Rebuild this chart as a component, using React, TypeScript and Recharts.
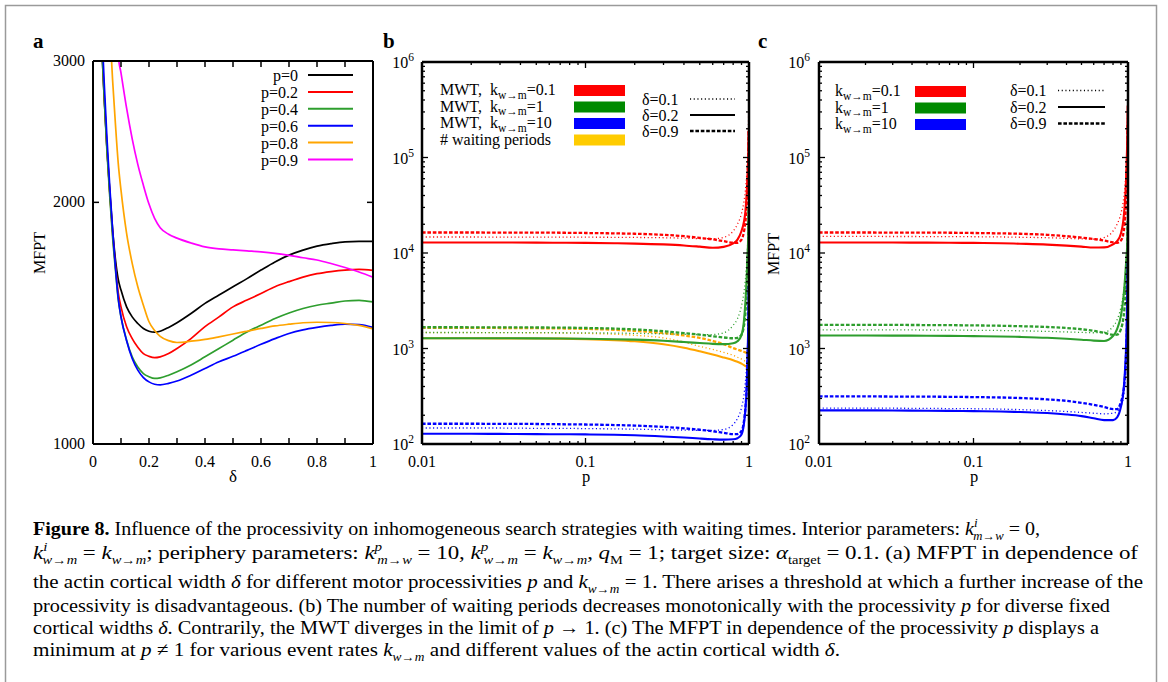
import React from "react";
import { LineChart, Line, XAxis, YAxis } from "recharts";

const FONT = "'Liberation Serif', 'Times New Roman', 'DejaVu Serif', serif";

// ---------------- Panel a : MFPT vs delta ----------------
const deltaA = [0.02, 0.03, 0.04, 0.05, 0.06, 0.07, 0.08, 0.09, 0.1, 0.12, 0.14, 0.16, 0.18, 0.2, 0.22, 0.24, 0.27, 0.3, 0.35, 0.4, 0.45, 0.5, 0.55, 0.6, 0.65, 0.7, 0.75, 0.8, 0.85, 0.9, 0.95, 1.0];
const aP0 = [4000, 3200, 2700, 2330, 2060, 1850, 1700, 1605, 1555, 1482, 1440, 1413, 1393, 1382, 1378, 1382, 1397, 1416, 1454, 1497, 1533, 1570, 1607, 1647, 1686, 1719, 1744, 1764, 1777, 1786, 1788, 1788];
const aP02 = [4000, 3250, 2720, 2330, 2050, 1830, 1670, 1545, 1482, 1400, 1353, 1320, 1296, 1286, 1281, 1284, 1296, 1315, 1353, 1400, 1440, 1482, 1511, 1540, 1570, 1593, 1614, 1630, 1640, 1647, 1650, 1645];
const aP04 = [3900, 3200, 2700, 2310, 2030, 1810, 1650, 1515, 1440, 1347, 1284, 1247, 1224, 1213, 1207, 1209, 1218, 1230, 1254, 1284, 1315, 1347, 1379, 1406, 1433, 1456, 1475, 1489, 1498, 1507, 1510, 1503];
const aP06 = [4100, 3400, 2820, 2400, 2090, 1850, 1665, 1520, 1440, 1345, 1278, 1236, 1210, 1195, 1187, 1185, 1190, 1198, 1218, 1242, 1266, 1286, 1308, 1331, 1353, 1373, 1387, 1397, 1405, 1410, 1408, 1397];
const aP08 = [9000, 6500, 5000, 4000, 3300, 2840, 2507, 2240, 2071, 1830, 1679, 1570, 1489, 1420, 1385, 1362, 1345, 1338, 1343, 1350, 1360, 1371, 1382, 1393, 1403, 1410, 1416, 1418, 1417, 1413, 1405, 1391];
const aP09 = [20000, 14000, 10000, 7500, 5800, 4600, 3700, 3050, 2900, 2620, 2400, 2230, 2100, 1990, 1910, 1860, 1825, 1805, 1780, 1760, 1750, 1745, 1740, 1735, 1728, 1718, 1706, 1695, 1678, 1659, 1638, 1614];

const seriesA = [
  { key: "p0", label: "p=0", color: "#000000", values: aP0 },
  { key: "p02", label: "p=0.2", color: "#ff0000", values: aP02 },
  { key: "p04", label: "p=0.4", color: "#2e9e2e", values: aP04 },
  { key: "p06", label: "p=0.6", color: "#0000ff", values: aP06 },
  { key: "p08", label: "p=0.8", color: "#ffa500", values: aP08 },
  { key: "p09", label: "p=0.9", color: "#ff00ff", values: aP09 },
];

const xTicksA = [0, 0.1, 0.2, 0.3, 0.4, 0.5, 0.6, 0.7, 0.8, 0.9, 1.0];
const yTicksA = [1000, 2000, 3000];
const yTicksARight = [2000];

// ---------------- Panels b, c : vs p (log-log) ----------------
const pB = [0.01, 0.02, 0.03, 0.05, 0.07, 0.1, 0.15, 0.2, 0.3, 0.4, 0.5, 0.6, 0.7, 0.8, 0.85, 0.9, 0.93, 0.95, 0.97, 0.98, 0.99, 0.995];

// panel b: MWT and number of waiting periods
const bRedDot = [14700, 14700, 14690, 14680, 14660, 14640, 14600, 14550, 14450, 14300, 14150, 14100, 14600, 17000, 20000, 26000, 34000, 45000, 70000, 100000, 170000, 300000];
const bRedSol = [12900, 12890, 12870, 12840, 12800, 12750, 12650, 12550, 12300, 12000, 11650, 11350, 11600, 12600, 13800, 17000, 21000, 27000, 45000, 65000, 110000, 190000];
const bRedDash = [16400, 16390, 16370, 16340, 16300, 16200, 16050, 15900, 15500, 15000, 14400, 13900, 13300, 12800, 12800, 13800, 16500, 21000, 34000, 52000, 100000, 200000];
const bGrnDot = [1470, 1470, 1468, 1465, 1462, 1458, 1450, 1440, 1425, 1410, 1400, 1400, 1460, 1750, 2050, 2800, 3800, 5200, 8500, 12000, 20000, 35000];
const bGrnSol = [1282, 1281, 1279, 1276, 1272, 1265, 1252, 1238, 1205, 1170, 1140, 1118, 1112, 1135, 1190, 1380, 1900, 3000, 6000, 9500, 16000, 30000];
const bGrnDash = [1670, 1668, 1665, 1660, 1655, 1640, 1615, 1585, 1515, 1450, 1395, 1345, 1305, 1280, 1295, 1400, 1700, 2300, 4200, 7000, 14000, 28000];
const bBluDot = [147, 147, 147, 146, 146, 145, 144, 143, 141, 140, 139, 139, 142, 160, 185, 240, 320, 440, 750, 1100, 2200, 4500];
const bBluSol = [128, 128, 127.5, 127, 126.5, 126, 125, 123.5, 120, 117, 114, 112, 111, 112, 115, 126, 160, 225, 430, 850, 1900, 4500];
const bBluDash = [163, 163, 162.5, 162, 161, 160, 158, 156, 151, 146, 141, 136, 131, 127, 127, 137, 170, 235, 420, 700, 1400, 3000];
const bOrgDot = [1470, 1468, 1465, 1460, 1452, 1440, 1410, 1375, 1290, 1170, 1050, 980, 910, 850, 810, 775, 750, 735, 720, 712, 705, 700];
const bOrgSol = [1282, 1280, 1278, 1274, 1268, 1255, 1225, 1190, 1110, 1020, 935, 865, 805, 755, 725, 695, 670, 655, 642, 635, 628, 625];
const bOrgDash = [1650, 1645, 1640, 1632, 1622, 1605, 1570, 1530, 1450, 1370, 1290, 1200, 1110, 1010, 975, 945, 925, 912, 903, 898, 893, 890];

// panel c: MFPT
const cRedDot = [14900, 14900, 14890, 14870, 14850, 14800, 14720, 14620, 14450, 14250, 14050, 13950, 14500, 17000, 20000, 26000, 34000, 45000, 70000, 100000, 180000, 350000];
const cRedSol = [12900, 12890, 12870, 12840, 12800, 12750, 12650, 12500, 12250, 11950, 11650, 11400, 11450, 12300, 13300, 16000, 21000, 30000, 55000, 90000, 170000, 350000];
const cRedDash = [16400, 16390, 16370, 16350, 16300, 16200, 16050, 15900, 15500, 15000, 14500, 14000, 13500, 12900, 12800, 13500, 15500, 20000, 32000, 50000, 100000, 220000];
const cGrnDot = [1567, 1567, 1565, 1562, 1558, 1552, 1543, 1532, 1510, 1490, 1475, 1462, 1480, 1700, 2000, 2700, 3600, 4800, 7500, 10000, 15000, 25000];
const cGrnSol = [1368, 1367, 1365, 1360, 1355, 1348, 1336, 1322, 1295, 1265, 1237, 1210, 1200, 1350, 1600, 2200, 3200, 4600, 7500, 9500, 13000, 20000];
const cGrnDash = [1770, 1768, 1765, 1760, 1755, 1745, 1730, 1712, 1680, 1640, 1590, 1530, 1460, 1390, 1400, 1600, 2000, 2700, 4500, 7000, 12000, 22000];
const cBluDot = [238, 238, 237, 236, 235, 234, 232, 229, 224, 219, 214, 210, 207, 210, 220, 250, 300, 400, 700, 1100, 2500, 5000];
const cBluSol = [225, 225, 224, 223, 222, 221, 219, 216, 211, 204, 196, 186, 178, 178, 190, 245, 330, 500, 950, 1700, 4000, 8000];
const cBluDash = [315, 315, 314, 313, 312, 310, 307, 303, 293, 283, 270, 257, 244, 232, 232, 275, 340, 450, 800, 1300, 3000, 6000];

const RED = "#ff0000";
const GREEN_LINE = "#2e9e2e";
const BLUE = "#0000ff";
const ORANGE = "#ffa500";

const DOT = { strokeDasharray: "1.1 2.6", strokeWidth: 1.3 };
const SOLID = { strokeDasharray: undefined as any, strokeWidth: 2.1 };
const DASH = { strokeDasharray: "3.6 1.8", strokeWidth: 2.3 };

const seriesB = [
  { key: "rDot", color: RED, style: DOT, values: bRedDot },
  { key: "rDash", color: RED, style: DASH, values: bRedDash },
  { key: "rSol", color: RED, style: SOLID, values: bRedSol },
  { key: "oDot", color: ORANGE, style: DOT, values: bOrgDot },
  { key: "oDash", color: ORANGE, style: DASH, values: bOrgDash },
  { key: "oSol", color: ORANGE, style: SOLID, values: bOrgSol },
  { key: "gDot", color: GREEN_LINE, style: DOT, values: bGrnDot },
  { key: "gDash", color: GREEN_LINE, style: DASH, values: bGrnDash },
  { key: "gSol", color: GREEN_LINE, style: SOLID, values: bGrnSol },
  { key: "bDot", color: BLUE, style: DOT, values: bBluDot },
  { key: "bDash", color: BLUE, style: DASH, values: bBluDash },
  { key: "bSol", color: BLUE, style: SOLID, values: bBluSol },
];

const seriesC = [
  { key: "rDot", color: RED, style: DOT, values: cRedDot },
  { key: "rDash", color: RED, style: DASH, values: cRedDash },
  { key: "rSol", color: RED, style: SOLID, values: cRedSol },
  { key: "gDot", color: GREEN_LINE, style: DOT, values: cGrnDot },
  { key: "gDash", color: GREEN_LINE, style: DASH, values: cGrnDash },
  { key: "gSol", color: GREEN_LINE, style: SOLID, values: cGrnSol },
  { key: "bDot", color: BLUE, style: DOT, values: cBluDot },
  { key: "bDash", color: BLUE, style: DASH, values: cBluDash },
  { key: "bSol", color: BLUE, style: SOLID, values: cBluSol },
];

// log tick positions
const yDecades = [100, 1000, 10000, 100000];
const xDecades = [0.01, 0.1];
const mult = [1, 2, 3, 4, 5, 6, 7, 8, 9];
const logYTicks = [...yDecades.flatMap((d) => mult.map((m) => d * m)), 1000000];
const logXTicks = [...xDecades.flatMap((d) => mult.map((m) => d * m)), 1];

const legendBRows = [
  { pre: "MWT,  k", sub: "w\u2192m", post: "=0.1", swatch: "#ff0000" },
  { pre: "MWT,  k", sub: "w\u2192m", post: "=1", swatch: "#008a00" },
  { pre: "MWT,  k", sub: "w\u2192m", post: "=10", swatch: "#0000ff" },
  { pre: "# waiting periods", sub: "", post: "", swatch: "#ffcc00" },
];
const legendCRows = [
  { pre: "k", sub: "w\u2192m", post: "=0.1", swatch: "#ff0000" },
  { pre: "k", sub: "w\u2192m", post: "=1", swatch: "#008a00" },
  { pre: "k", sub: "w\u2192m", post: "=10", swatch: "#0000ff" },
];
const legendDelta = [
  { label: "\u03b4=0.1", style: DOT },
  { label: "\u03b4=0.2", style: SOLID },
  { label: "\u03b4=0.9", style: DASH },
];

// ---------------- tick renderers ----------------
const isLogMajor = (v: number) => Math.abs(Math.log10(v) - Math.round(Math.log10(v))) < 1e-6;

const LinBottomTick = (props: any) => {
  const { x, y, payload } = props;
  const v = payload.value;
  const major = Math.abs(v * 5 - Math.round(v * 5)) < 1e-6;
  return (
    <g>
      <line x1={x} x2={x} y1={y} y2={y - 6} stroke="#000" strokeWidth={1.5} />
      {major && (
        <text x={x} y={y + 23} textAnchor="middle" fontSize={16} fontFamily={FONT} fill="#000">
          {String(Math.round(v * 10) / 10)}
        </text>
      )}
    </g>
  );
};
const LinTopTick = (props: any) => {
  const { x, y } = props;
  return <line x1={x} x2={x} y1={y} y2={y + 6} stroke="#000" strokeWidth={1.5} />;
};
const LinLeftTick = (props: any) => {
  const { x, y, payload } = props;
  return (
    <g>
      <line x1={x} x2={x + 6} y1={y} y2={y} stroke="#000" strokeWidth={1.5} />
      <text x={x - 8} y={y + 5} textAnchor="end" fontSize={16} fontFamily={FONT} fill="#000">
        {String(payload.value)}
      </text>
    </g>
  );
};
const LinRightTick = (props: any) => {
  const { x, y } = props;
  return <line x1={x} x2={x - 6} y1={y} y2={y} stroke="#000" strokeWidth={1.5} />;
};

const LogBottomTick = (props: any) => {
  const { x, y, payload } = props;
  const v = payload.value;
  const major = isLogMajor(v);
  return (
    <g>
      <line x1={x} x2={x} y1={y} y2={y - (major ? 6 : 3)} stroke="#000" strokeWidth={1.3} />
      {major && (
        <text x={x} y={y + 23} textAnchor="middle" fontSize={16} fontFamily={FONT} fill="#000">
          {String(v)}
        </text>
      )}
    </g>
  );
};
const LogTopTick = (props: any) => {
  const { x, y, payload } = props;
  const major = isLogMajor(payload.value);
  return <line x1={x} x2={x} y1={y} y2={y + (major ? 6 : 3)} stroke="#000" strokeWidth={1.3} />;
};
const makeLogLeftTick = (gap: number) => (props: any) => {
  const { x, y, payload } = props;
  const v = payload.value;
  const major = isLogMajor(v);
  return (
    <g>
      <line x1={x} x2={x + (major ? 6 : 3)} y1={y} y2={y} stroke="#000" strokeWidth={1.3} />
      {major && (
        <text x={x - gap} y={y + 6} textAnchor="end" fontSize={16} fontFamily={FONT} fill="#000">
          10
          <tspan dy={-7} fontSize={11.5}>
            {String(Math.round(Math.log10(v)))}
          </tspan>
        </text>
      )}
    </g>
  );
};
const LogRightTick = (props: any) => {
  const { x, y, payload } = props;
  const major = isLogMajor(payload.value);
  return <line x1={x} x2={x - (major ? 6 : 3)} y1={y} y2={y} stroke="#000" strokeWidth={1.3} />;
};

// ---------------- panels ----------------
const PanelA = () => {
  const rows = deltaA.map((d, i) => {
    const r: any = { d };
    seriesA.forEach((s) => (r[s.key] = s.values[i]));
    return r;
  });
  const axisLine = { stroke: "#000", strokeWidth: 2 };
  return (
    <div style={{ position: "absolute", left: 0, top: 0 }}>
      <LineChart width={400} height={500} data={rows} margin={{ top: 51, right: 17, bottom: 26, left: 43 }}>
        <XAxis dataKey="d" type="number" domain={[0, 1]} ticks={xTicksA} interval={0} allowDataOverflow
          tickSize={0} tickMargin={0} tickLine={false} axisLine={axisLine} height={30} tick={(p: any) => <LinBottomTick {...p} />} />
        <XAxis xAxisId="top" orientation="top" dataKey="d" type="number" domain={[0, 1]} ticks={xTicksA} interval={0} allowDataOverflow
          tickSize={0} tickMargin={0} tickLine={false} axisLine={axisLine} height={10} tick={(p: any) => <LinTopTick {...p} />} />
        <YAxis type="number" scale="log" domain={[1000, 3000]} ticks={yTicksA} interval={0} allowDataOverflow
          tickSize={0} tickMargin={0} tickLine={false} axisLine={axisLine} width={50} tick={(p: any) => <LinLeftTick {...p} />} />
        <YAxis yAxisId="right" orientation="right" type="number" scale="log" domain={[1000, 3000]} ticks={yTicksARight} interval={0} allowDataOverflow
          tickSize={0} tickMargin={0} tickLine={false} axisLine={axisLine} width={10} tick={(p: any) => <LinRightTick {...p} />} />
        {seriesA.map((s) => (
          <Line key={s.key} dataKey={s.key} stroke={s.color} strokeWidth={1.7} dot={false} type="monotone" isAnimationActive={false} />
        ))}
      </LineChart>
    </div>
  );
};

const LogPanel = ({ left, width, margin, series, gap }: any) => {
  const rows = pB.map((p, i) => {
    const r: any = { p };
    series.forEach((s: any) => (r[s.key] = s.values[i]));
    return r;
  });
  const axisLine = { stroke: "#000", strokeWidth: 2.5 };
  const LeftTick = makeLogLeftTick(gap);
  return (
    <div style={{ position: "absolute", left, top: 0 }}>
      <LineChart width={width} height={500} data={rows} margin={margin}>
        <XAxis dataKey="p" type="number" scale="log" domain={[0.01, 1]} ticks={logXTicks} interval={0} allowDataOverflow
          tickSize={0} tickMargin={0} tickLine={false} axisLine={axisLine} height={30} tick={(p: any) => <LogBottomTick {...p} />} />
        <XAxis xAxisId="top" orientation="top" dataKey="p" type="number" scale="log" domain={[0.01, 1]} ticks={logXTicks} interval={0} allowDataOverflow
          tickSize={0} tickMargin={0} tickLine={false} axisLine={axisLine} height={10} tick={(p: any) => <LogTopTick {...p} />} />
        <YAxis type="number" scale="log" domain={[100, 1000000]} ticks={logYTicks} interval={0} allowDataOverflow
          tickSize={0} tickMargin={0} tickLine={false} axisLine={axisLine} width={40} tick={(p: any) => <LeftTick {...p} />} />
        <YAxis yAxisId="right" orientation="right" type="number" scale="log" domain={[100, 1000000]} ticks={logYTicks} interval={0} allowDataOverflow
          tickSize={0} tickMargin={0} tickLine={false} axisLine={axisLine} width={10} tick={(p: any) => <LogRightTick {...p} />} />
        {series.map((s: any) => (
          <Line key={s.key} dataKey={s.key} stroke={s.color} strokeWidth={s.style.strokeWidth} strokeDasharray={s.style.strokeDasharray}
            dot={false} type="monotone" isAnimationActive={false} />
        ))}
      </LineChart>
    </div>
  );
};

// ---------------- caption helpers ----------------
const it = { fontStyle: "italic" as const };
const Ksub = ({ sup, sub, after }: { sup?: string; sub: string; after: string }) => (
  <>
    <tspan style={it}>k</tspan>
    {sup ? (
      <>
        <tspan fontSize={12.5} dy={-8} style={it}>{sup}</tspan>
        <tspan fontSize={12} dy={13} dx={-4} style={it}>{sub}</tspan>
      </>
    ) : (
      <tspan fontSize={12} dy={5} style={it}>{sub}</tspan>
    )}
    <tspan dy={-5}>{after}</tspan>
  </>
);

const CAP_X = 33;
const Cap = ({ y, end, children }: any) => (
  <text x={CAP_X} y={y} textLength={end - CAP_X} lengthAdjust="spacingAndGlyphs" fontSize={19} fontFamily={FONT} fill="#000" style={{ whiteSpace: "pre" }}>
    {children}
  </text>
);

const Overlay = () => (
  <svg width={1168} height={682} style={{ position: "absolute", left: 0, top: 0, pointerEvents: "none" }}>
    <rect x={5.5} y={5.5} width={1151} height={700} fill="none" stroke="#9a9a9a" strokeWidth={1.5} />
    {/* panel letters */}
    <text x={33} y={48} fontSize={21} fontWeight="bold" fontFamily={FONT}>a</text>
    <text x={383} y={48} fontSize={21} fontWeight="bold" fontFamily={FONT}>b</text>
    <text x={758} y={48} fontSize={21} fontWeight="bold" fontFamily={FONT}>c</text>
    {/* axis titles */}
    <text transform="translate(45,253) rotate(-90)" textAnchor="middle" fontSize={16} fontFamily={FONT}>MFPT</text>
    <text transform="translate(779,254) rotate(-90)" textAnchor="middle" fontSize={16} fontFamily={FONT}>MFPT</text>
    <text x={233} y={482} textAnchor="middle" fontSize={17} fontFamily={FONT}>{"\u03b4"}</text>
    <text x={586} y={482} textAnchor="middle" fontSize={16.5} fontFamily={FONT}>p</text>
    <text x={974} y={482} textAnchor="middle" fontSize={16.5} fontFamily={FONT}>p</text>
    {/* legend a */}
    {seriesA.map((s, i) => {
      const cy = 75 + i * 16.9;
      return (
        <g key={s.key}>
          <text x={298} y={cy + 6} textAnchor="end" fontSize={16} fontFamily={FONT}>{s.label}</text>
          <line x1={308} x2={353} y1={cy} y2={cy} stroke={s.color} strokeWidth={2} />
        </g>
      );
    })}
    {/* legend b */}
    {legendBRows.map((r, i) => {
      const base = 95 + i * 16.5;
      return (
        <g key={"lb" + i}>
          <text x={440} y={base} fontSize={16} fontFamily={FONT} style={{ whiteSpace: "pre" }}>
            {r.pre}
            {r.sub && <tspan dy={3.5} fontSize={11.5}>{r.sub}</tspan>}
            {r.sub && <tspan dy={-3.5}>{r.post}</tspan>}
          </text>
          <rect x={574} y={base - 10} width={51} height={11} fill={r.swatch} />
        </g>
      );
    })}
    {legendDelta.map((d, i) => {
      const base = 105 + i * 16;
      return (
        <g key={"ldb" + i}>
          <text x={642} y={base} fontSize={16} fontFamily={FONT}>{d.label}</text>
          <line x1={690} x2={735} y1={base - 6} y2={base - 6} stroke="#000" strokeWidth={d.style.strokeWidth} strokeDasharray={d.style.strokeDasharray} />
        </g>
      );
    })}
    {/* legend c */}
    {legendCRows.map((r, i) => {
      const base = 96 + i * 16.5;
      return (
        <g key={"lc" + i}>
          <text x={835} y={base} fontSize={16} fontFamily={FONT}>
            {r.pre}
            <tspan dy={3.5} fontSize={11.5}>{r.sub}</tspan>
            <tspan dy={-3.5}>{r.post}</tspan>
          </text>
          <rect x={915} y={base - 10} width={51} height={11} fill={r.swatch} />
        </g>
      );
    })}
    {legendDelta.map((d, i) => {
      const base = 96 + i * 16.5;
      return (
        <g key={"ldc" + i}>
          <text x={1010} y={base} fontSize={16} fontFamily={FONT}>{d.label}</text>
          <line x1={1058} x2={1105} y1={base - 5.5} y2={base - 5.5} stroke="#000" strokeWidth={d.style.strokeWidth} strokeDasharray={d.style.strokeDasharray} />
        </g>
      );
    })}
    {/* caption */}
    <Cap y={535} end={1040}>
      <tspan fontWeight="bold">Figure 8.</tspan>
      <tspan>{" Influence of the processivity on inhomogeneous search strategies with waiting times. Interior parameters: "}</tspan>
      <Ksub sup="i" sub={"m\u2192w"} after={" = 0,"} />
    </Cap>
    <Cap y={559} end={1138}>
      <Ksub sup="i" sub={"w\u2192m"} after={" = "} />
      <Ksub sub={"w\u2192m"} after={"; periphery parameters: "} />
      <Ksub sup="p" sub={"m\u2192w"} after={" = 10, "} />
      <Ksub sup="p" sub={"w\u2192m"} after={" = "} />
      <Ksub sub={"w\u2192m"} after={", "} />
      <tspan style={it}>q</tspan>
      <tspan fontSize={12} dy={5}>M</tspan>
      <tspan dy={-5}>{" = 1; target size: "}</tspan>
      <tspan style={it}>{"\u03b1"}</tspan>
      <tspan fontSize={12} dy={5}>target</tspan>
      <tspan dy={-5}>{" = 0.1. (a) MFPT in dependence of"}</tspan>
    </Cap>
    <Cap y={588} end={1143}>
      <tspan>{"the actin cortical width "}</tspan>
      <tspan style={it}>{"\u03b4"}</tspan>
      <tspan>{" for different motor processivities "}</tspan>
      <tspan style={it}>p</tspan>
      <tspan>{" and "}</tspan>
      <Ksub sub={"w\u2192m"} after={" = 1. There arises a threshold at which a further increase of the"} />
    </Cap>
    <Cap y={612} end={1110}>
      <tspan>{"processivity is disadvantageous. (b) The number of waiting periods decreases monotonically with the processivity "}</tspan>
      <tspan style={it}>p</tspan>
      <tspan>{" for diverse fixed"}</tspan>
    </Cap>
    <Cap y={634} end={1099}>
      <tspan>{"cortical widths "}</tspan>
      <tspan style={it}>{"\u03b4"}</tspan>
      <tspan>{". Contrarily, the MWT diverges in the limit of "}</tspan>
      <tspan style={it}>p</tspan>
      <tspan>{" \u2192 1. (c) The MFPT in dependence of the processivity "}</tspan>
      <tspan style={it}>p</tspan>
      <tspan>{" displays a"}</tspan>
    </Cap>
    <Cap y={656} end={840}>
      <tspan>{"minimum at "}</tspan>
      <tspan style={it}>p</tspan>
      <tspan>{" \u2260 1 for various event rates "}</tspan>
      <Ksub sub={"w\u2192m"} after={" and different values of the actin cortical width "} />
      <tspan style={it}>{"\u03b4"}</tspan>
      <tspan>.</tspan>
    </Cap>
  </svg>
);

export default function App() {
  return (
    <div style={{ position: "absolute", left: 0, top: 0, width: 1168, height: 682, background: "#fff", overflow: "hidden" }}>
      <PanelA />
      <LogPanel left={380} width={390} margin={{ top: 52, right: 11, bottom: 26, left: 2 }} series={seriesB} gap={8} />
      <LogPanel left={770} width={390} margin={{ top: 52, right: 22, bottom: 26, left: 9 }} series={seriesC} gap={9} />
      <Overlay />
    </div>
  );
}
